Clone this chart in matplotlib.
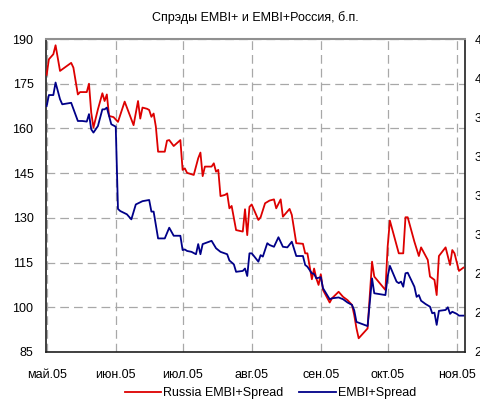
import matplotlib
matplotlib.use("Agg")
import matplotlib.pyplot as plt
import matplotlib.dates as mdates
import numpy as np
from datetime import datetime

plt.rcParams['font.family'] = ['Liberation Sans', 'DejaVu Sans']

title = "Спрэды EMBI+ и EMBI+Россия, б.п."
russia_label = "Russia EMBI+Spread"
embi_label = "EMBI+Spread"

russia_dates = [
    "2005-05-01", "2005-05-02", "2005-05-04", "2005-05-05", "2005-05-07", "2005-05-12", "2005-05-13",
    "2005-05-15", "2005-05-16", "2005-05-19", "2005-05-20", "2005-05-21", "2005-05-22", "2005-05-24",
    "2005-05-26", "2005-05-27", "2005-05-28", "2005-05-29", "2005-05-31", "2005-06-02", "2005-06-05",
    "2005-06-09", "2005-06-11", "2005-06-12", "2005-06-13", "2005-06-15", "2005-06-16", "2005-06-17",
    "2005-06-18", "2005-06-19", "2005-06-20", "2005-06-23", "2005-06-24", "2005-06-25", "2005-06-27",
    "2005-06-30", "2005-07-01", "2005-07-02", "2005-07-03", "2005-07-06", "2005-07-08", "2005-07-09",
    "2005-07-10", "2005-07-11", "2005-07-14", "2005-07-15", "2005-07-16", "2005-07-17", "2005-07-18",
    "2005-07-20", "2005-07-21", "2005-07-22", "2005-07-23", "2005-07-25", "2005-07-28", "2005-07-29",
    "2005-07-30", "2005-07-31", "2005-08-01", "2005-08-04", "2005-08-05", "2005-08-07", "2005-08-09",
    "2005-08-11", "2005-08-12", "2005-08-14", "2005-08-15", "2005-08-18", "2005-08-19", "2005-08-21",
    "2005-08-24", "2005-08-25", "2005-08-26", "2005-08-28", "2005-08-29", "2005-08-30", "2005-08-31",
    "2005-09-01", "2005-09-02", "2005-09-05", "2005-09-06", "2005-09-09", "2005-09-11", "2005-09-13",
    "2005-09-15", "2005-09-16", "2005-09-17", "2005-09-18", "2005-09-22", "2005-09-24", "2005-09-25",
    "2005-09-30", "2005-10-01", "2005-10-02", "2005-10-06", "2005-10-08", "2005-10-09", "2005-10-10",
    "2005-10-13", "2005-10-15", "2005-10-16", "2005-10-19", "2005-10-20", "2005-10-22", "2005-10-23",
    "2005-10-24", "2005-10-27", "2005-10-29", "2005-10-30", "2005-10-31", "2005-11-02", "2005-11-04",
]
russia_values = [
    178.0, 183.2, 184.9, 187.9, 179.3, 182.0, 180.4,
    171.4, 172.2, 172.2, 175.0, 165.3, 160.3, 166.4,
    171.8, 169.2, 171.4, 164.2, 163.8, 162.2, 169.0,
    161.1, 169.2, 163.3, 167.0, 166.6, 166.2, 163.9,
    165.0, 160.6, 152.2, 152.2, 155.9, 156.1, 154.1,
    156.1, 146.1, 146.6, 145.1, 144.4, 150.0, 151.9,
    144.0, 147.2, 147.2, 148.3, 145.5, 146.1, 137.3,
    137.7, 138.2, 133.2, 134.0, 125.9, 125.4, 132.9,
    124.2, 133.7, 134.5, 129.3, 130.2, 134.9, 135.8,
    136.2, 133.2, 136.2, 130.4, 133.0, 131.0, 121.5,
    121.3, 118.1, 118.1, 109.4, 113.0, 109.7, 107.5,
    111.1, 105.8, 101.6, 103.0, 105.2, 103.5, 102.4,
    100.8, 97.4, 93.0, 89.6, 92.9, 115.3, 110.3,
    105.8, 120.3, 129.1, 118.1, 118.1, 130.2, 130.2,
    122.0, 117.2, 120.1, 115.9, 110.3, 109.2, 104.1,
    117.2, 120.1, 114.2, 119.2, 118.1, 112.2, 113.3,
]

embi_dates = [
    "2005-05-01", "2005-05-02", "2005-05-04", "2005-05-05", "2005-05-07", "2005-05-08", "2005-05-12",
    "2005-05-15", "2005-05-17", "2005-05-19", "2005-05-20", "2005-05-21", "2005-05-22", "2005-05-24",
    "2005-05-26", "2005-05-27", "2005-05-28", "2005-05-30", "2005-06-01", "2005-06-02", "2005-06-03",
    "2005-06-06", "2005-06-08", "2005-06-10", "2005-06-13", "2005-06-16", "2005-06-17", "2005-06-18",
    "2005-06-20", "2005-06-23", "2005-06-25", "2005-06-27", "2005-06-30", "2005-07-01", "2005-07-02",
    "2005-07-03", "2005-07-05", "2005-07-07", "2005-07-08", "2005-07-09", "2005-07-10", "2005-07-14",
    "2005-07-16", "2005-07-18", "2005-07-21", "2005-07-22", "2005-07-24", "2005-07-25", "2005-07-28",
    "2005-07-29", "2005-07-30", "2005-07-31", "2005-08-01", "2005-08-02", "2005-08-04", "2005-08-05",
    "2005-08-06", "2005-08-08", "2005-08-09", "2005-08-11", "2005-08-13", "2005-08-15", "2005-08-17",
    "2005-08-19", "2005-08-21", "2005-08-24", "2005-08-25", "2005-08-26", "2005-08-28", "2005-08-29",
    "2005-08-30", "2005-09-01", "2005-09-02", "2005-09-05", "2005-09-06", "2005-09-09", "2005-09-11",
    "2005-09-13", "2005-09-15", "2005-09-16", "2005-09-17", "2005-09-22", "2005-09-24", "2005-09-25",
    "2005-09-30", "2005-10-01", "2005-10-02", "2005-10-05", "2005-10-06", "2005-10-07", "2005-10-08",
    "2005-10-09", "2005-10-10", "2005-10-13", "2005-10-14", "2005-10-15", "2005-10-16", "2005-10-18",
    "2005-10-20", "2005-10-21", "2005-10-22", "2005-10-23", "2005-10-24", "2005-10-27", "2005-10-28",
    "2005-10-29", "2005-10-30", "2005-11-01", "2005-11-02", "2005-11-04",
]
embi_values = [
    167.5, 171.2, 171.2, 175.4, 169.8, 168.1, 168.6,
    162.5, 162.5, 162.3, 164.8, 159.7, 158.6, 160.8,
    166.4, 166.4, 167.0, 161.4, 160.6, 133.0, 132.3,
    131.2, 129.5, 134.5, 135.6, 136.0, 132.1, 132.1,
    123.1, 123.1, 126.7, 124.0, 124.0, 119.2, 119.4,
    118.9, 118.6, 117.8, 121.2, 117.8, 121.2, 122.3,
    119.8, 118.6, 117.8, 115.7, 114.4, 111.9, 112.2,
    113.0, 110.5, 118.1, 118.1, 117.2, 115.3, 117.5,
    117.0, 121.5, 120.9, 120.3, 123.5, 120.3, 120.1,
    122.0, 117.2, 117.2, 114.2, 113.6, 111.4, 111.2,
    109.7, 110.1, 106.4, 102.7, 103.0, 103.3, 102.7,
    101.6, 100.8, 99.0, 95.1, 93.7, 109.7, 104.7,
    104.1, 110.3, 113.9, 108.6, 108.1, 108.6, 106.9,
    111.4, 111.6, 106.9, 103.5, 104.1, 102.2, 101.1,
    100.2, 98.0, 98.2, 94.1, 98.8, 99.1, 100.0,
    97.8, 98.5, 97.8, 97.2, 97.2,
]

month_ticks = ["2005-05-01", "2005-06-01", "2005-07-01", "2005-08-01", "2005-09-01", "2005-10-01", "2005-11-01"]
month_labels = ["май.05", "июн.05", "июл.05", "авг.05", "сен.05", "окт.05", "ноя.05"]
left_ticks = [85, 100, 115, 130, 145, 160, 175, 190]
right_ticks = [210, 240, 270, 300, 330, 360, 390, 420, 450]

def to_dt(lst):
    return [datetime.strptime(s, "%Y-%m-%d") for s in lst]

fig = plt.figure(figsize=(4.81, 4.01), dpi=100)
ax = fig.add_axes([0.0956, 0.1222, 0.8711, 0.7805])

red = '#dd0000'
blue = '#000088'
ax.plot(to_dt(russia_dates), russia_values, color=red, lw=1.3, label=russia_label, zorder=3)
ax.plot(to_dt(embi_dates), embi_values, color=blue, lw=1.3, label=embi_label, zorder=3)

ax.set_ylim(85, 190)
ax.set_yticks(left_ticks)
ax.set_xlim(mdates.date2num(datetime(2005, 5, 1)) - 0.3, mdates.date2num(datetime(2005, 11, 4)) + 0.7)
ax.set_xticks(to_dt(month_ticks))
ax.set_xticklabels(month_labels)

ax.grid(True, color='#a8a8a8', linestyle=(0, (7, 4)), linewidth=0.9)
ax.set_axisbelow(True)
ax.tick_params(axis='both', length=0, labelsize=9, colors='black')
ax.tick_params(axis='y', pad=9)
ax.tick_params(axis='x', pad=12)

for side in ['left', 'bottom', 'right']:
    ax.spines[side].set_color('#202020')
    ax.spines[side].set_linewidth(1.2)
ax.spines['top'].set_color('#909090')
ax.spines['top'].set_linewidth(1.5)

ax2 = ax.twinx()
ax2.set_ylim(210, 450)
ax2.set_yticks(right_ticks)
ax2.tick_params(axis='y', length=0, labelsize=9, pad=7)
for s in ax2.spines.values():
    s.set_visible(False)

ax.set_title(title, fontsize=9, pad=13)

handles, labels = ax.get_legend_handles_labels()
fig.legend(handles, labels, loc='center', bbox_to_anchor=(0.562, 0.02), ncol=2,
           frameon=False, fontsize=9, handlelength=2.9, handletextpad=0.15, columnspacing=1.3,
           borderpad=0.0)

fig.savefig("out.png", dpi=100)
